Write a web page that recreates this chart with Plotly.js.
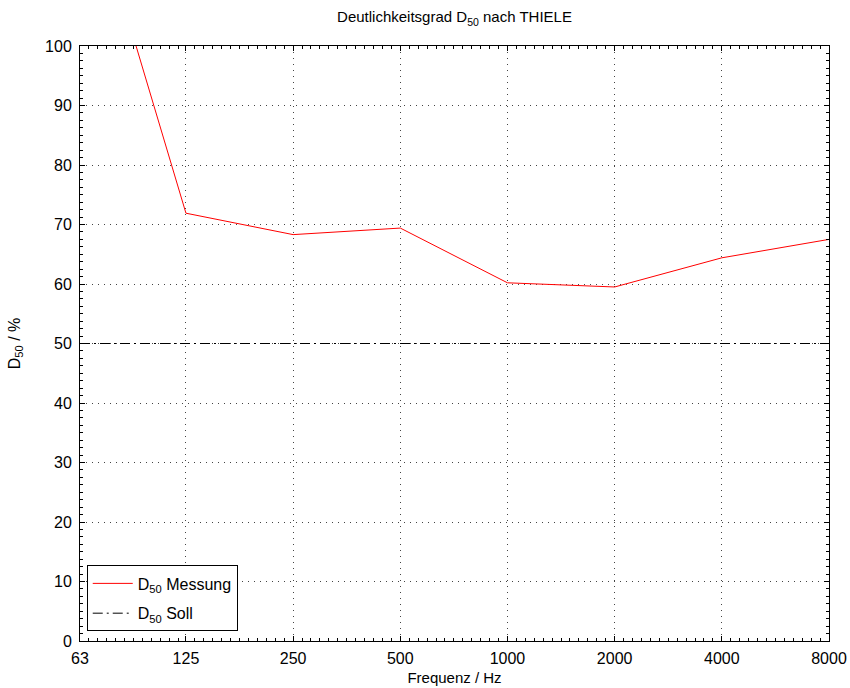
<!DOCTYPE html>
<html>
<head>
<meta charset="utf-8">
<script src="https://cdn.plot.ly/plotly-3.0.1.min.js"></script>
<style>
  html, body { margin: 0; padding: 0; background: #fff; }
  #chart { width: 850px; height: 688px; }
</style>
</head>
<body>
<div id="chart"></div>
<script>
// Octave band centre frequencies (Hz)
const frequencies = [63, 125, 250, 500, 1000, 2000, 4000, 8000];
const tickLabels = ['63', '125', '250', '500', '1000', '2000', '4000', '8000'];

// Measured definition D50 per band (%); the 63 Hz value lies above the plotted range
const d50Messung = [131.6, 71.9, 68.3, 69.4, 60.2, 59.5, 64.4, 67.5];

// Target value (%)
const d50Soll = [50, 50, 50, 50, 50, 50, 50, 50];

// Minor ticks on the log axis: 12 steps per octave
const minorX = [];
for (let i = 0; i < frequencies.length - 1; i++) {
  for (let k = 1; k < 12; k++) {
    minorX.push(frequencies[i] * Math.pow(2, k / 12));
  }
}

const font = 'Liberation Sans, Arial, Helvetica, sans-serif';

const traces = [
  {
    x: frequencies,
    y: d50Messung,
    type: 'scatter',
    mode: 'lines',
    name: 'D<sub>50</sub> Messung',
    legendgroup: 'messung',
    line: { color: '#ff0000', width: 1 }
  },
  {
    x: frequencies,
    y: d50Soll,
    type: 'scatter',
    mode: 'lines',
    name: 'D<sub>50</sub> Soll',
    legendgroup: 'soll',
    line: { color: '#000000', width: 1, dash: '10px,4px,2px,4px' }
  }
];

const axisCommon = {
  showline: true,
  linecolor: '#000',
  linewidth: 1,
  mirror: 'ticks',
  ticks: 'inside',
  ticklen: 5,
  tickcolor: '#000',
  showgrid: true,
  gridcolor: '#444',
  gridwidth: 1,
  griddash: '1px,5px',
  zeroline: false,
  tickfont: { family: font, size: 16, color: '#000' }
};

const layout = {
  width: 850,
  height: 688,
  paper_bgcolor: '#fff',
  plot_bgcolor: '#fff',
  margin: { l: 80, r: 21, t: 46, b: 47 },
  font: { family: font, color: '#000' },
  title: {
    text: 'Deutlichkeitsgrad D<sub>50</sub> nach THIELE',
    font: { family: font, size: 15, color: '#000' },
    x: 0.5, xref: 'paper', xanchor: 'center',
    y: 0.975, yref: 'container', yanchor: 'middle'
  },
  xaxis: Object.assign({}, axisCommon, {
    type: 'log',
    range: [Math.log10(63), Math.log10(8000)],
    tickmode: 'array',
    tickvals: frequencies,
    ticktext: tickLabels,
    ticklabelstandoff: 3,
    minor: {
      tickmode: 'array',
      tickvals: minorX,
      ticks: 'inside',
      ticklen: 3,
      tickcolor: '#000',
      showgrid: false
    },
    title: {
      text: 'Frequenz / Hz',
      font: { family: font, size: 15, color: '#000' },
      standoff: 6
    }
  }),
  yaxis: Object.assign({}, axisCommon, {
    range: [0, 100],
    tickmode: 'linear',
    tick0: 0,
    dtick: 10,
    ticklabelstandoff: 4,
    minor: {
      dtick: 1.25,
      ticks: 'inside',
      ticklen: 3,
      tickcolor: '#000',
      showgrid: false
    },
    title: {
      text: 'D<sub>50</sub> / %',
      font: { family: font, size: 16, color: '#000' },
      standoff: 20
    }
  }),
  showlegend: true,
  legend: {
    x: 0.009,
    y: 0.016,
    xanchor: 'left',
    yanchor: 'bottom',
    bgcolor: '#fff',
    bordercolor: '#000',
    borderwidth: 1,
    font: { family: font, size: 16, color: '#000' },
    itemwidth: 40,
    tracegroupgap: 6
  }
};

Plotly.newPlot('chart', traces, layout, { displayModeBar: false, staticPlot: true });
</script>
</body>
</html>
